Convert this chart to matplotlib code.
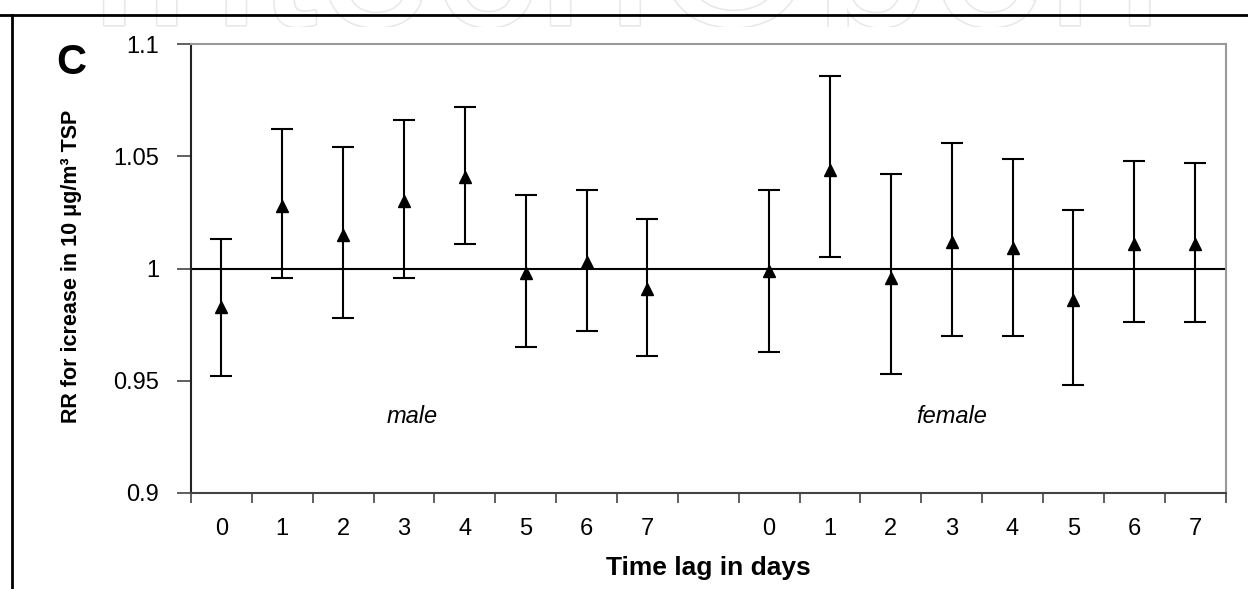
import matplotlib.pyplot as plt
import matplotlib.patheffects as pe
from matplotlib.lines import Line2D
from matplotlib.transforms import Bbox, TransformedBbox
import numpy as np

plt.rcParams['font.family'] = ['Liberation Sans', 'DejaVu Sans']

# dados (RR e IC 95%)
lags = ['0', '1', '2', '3', '4', '5', '6', '7']
male_rr = [0.983, 1.028, 1.015, 1.030, 1.041, 0.998, 1.003, 0.991]
male_hi = [1.013, 1.062, 1.054, 1.066, 1.072, 1.033, 1.035, 1.022]
male_lo = [0.952, 0.996, 0.978, 0.996, 1.011, 0.965, 0.972, 0.961]
female_rr = [0.999, 1.044, 0.996, 1.012, 1.009, 0.986, 1.011, 1.011]
female_hi = [1.035, 1.086, 1.042, 1.056, 1.049, 1.026, 1.048, 1.047]
female_lo = [0.963, 1.005, 0.953, 0.970, 0.970, 0.948, 0.976, 0.976]

fig = plt.figure(figsize=(12.48, 5.89), dpi=100)
ax = fig.add_axes([0.153, 0.163, 0.829, 0.762])

x_m = np.arange(len(lags))
x_f = np.arange(len(lags)) + len(lags) + 1

for xs, rr, lo, hi in [(x_m, male_rr, male_lo, male_hi), (x_f, female_rr, female_lo, female_hi)]:
    rr = np.array(rr)
    err = [rr - np.array(lo), np.array(hi) - rr]
    ax.errorbar(xs, rr, yerr=err, fmt='^', color='black', ms=9,
                elinewidth=1.5, capsize=8, capthick=1.5)

ax.axhline(1, color='black', lw=1.5, zorder=1)

ax.set_xlim(-0.5, 16.5)
ax.set_ylim(0.9, 1.1)
ax.set_yticks([0.9, 0.95, 1, 1.05, 1.1])
ax.set_yticklabels(['0.9', '0.95', '1', '1.05', '1.1'])

# ticks nas divisoes, rotulos no centro
ax.set_xticks(np.arange(-0.5, 17, 1))
ax.set_xticklabels([])
ax.set_xticks(np.concatenate([x_m, x_f]), minor=True)
ax.set_xticklabels(lags + lags, minor=True)
ax.tick_params(axis='x', which='major', length=7, width=1.2, color='#444444')
ax.tick_params(axis='x', which='minor', length=0, pad=18, labelsize=17)
ax.tick_params(axis='y', length=10, width=1.2, color='#444444', pad=13, labelsize=17)

ax.spines['left'].set_color('#222222')
ax.spines['bottom'].set_color('#444444')
ax.spines['top'].set_color('#999999')
ax.spines['right'].set_color('#999999')
for s in ax.spines.values():
    s.set_linewidth(1.5)

ax.set_xlabel('Time lag in days', fontsize=19, fontweight='bold')
ax.xaxis.set_label_coords(0.5, -0.14)
ax.set_ylabel('RR for icrease in 10 μg/m³ TSP', fontsize=15.5, fontweight='bold')
ax.yaxis.set_label_coords(-0.105, 0.505)

ax.text(3.13, 0.934, 'male', fontsize=17, style='italic', ha='center', va='center')
ax.text(12, 0.934, 'female', fontsize=17, style='italic', ha='center', va='center')

fig.text(0.057, 0.893, 'C', fontsize=30, fontweight='bold', ha='center', va='center')

# marca d'agua (so a parte de cima aparece)
wm = fig.text(0.5, 1 - 25 / 589, 'IntechOpen', fontsize=150, color='white', ha='center',
              va='baseline', zorder=0)
wm.set_path_effects([pe.withStroke(linewidth=2.5, foreground='#e8e8e8'), pe.Normal()])
wm.set_clip_on(True)
wm.set_clip_box(TransformedBbox(Bbox([[0, 1 - 27 / 589], [1, 1]]), fig.transFigure))

# moldura
fig.add_artist(Line2D([0, 1], [1 - 15 / 589, 1 - 15 / 589], color='black', lw=2))
fig.add_artist(Line2D([12 / 1248, 12 / 1248], [0, 1 - 15 / 589], color='black', lw=2))

fig.savefig('out.png', dpi=100)
